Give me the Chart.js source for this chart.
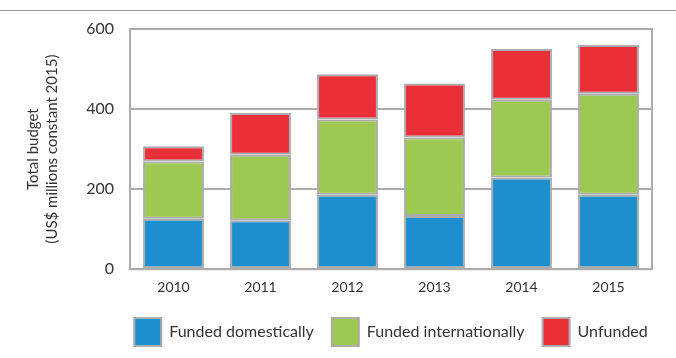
<!DOCTYPE html>
<html>
<head>
<meta charset="utf-8">
<script src="https://cdn.jsdelivr.net/npm/chart.js@4.4.0/dist/chart.umd.min.js"></script>
<style>
  html, body { margin: 0; padding: 0; background: #fff; }
  #wrap { position: relative; width: 676px; height: 358px; }
  #topline { position: absolute; left: 0; top: 10px; width: 676px; height: 1px; background: #9a9a9a; }
</style>
</head>
<body>
<div id="wrap">
  <div id="topline"></div>
  <canvas id="c" width="676" height="358"></canvas>
</div>
<script>
const categories = ['2010', '2011', '2012', '2013', '2014', '2015'];
const fundedDomestically = [126, 122, 186, 133, 229, 186];
const fundedInternationally = [143, 164, 188, 196, 194, 252];
const unfunded = [38, 104, 113, 135, 127, 122];
const seriesNames = ['Funded domestically', 'Funded internationally', 'Unfunded'];
const yTicks = [0, 200, 400, 600];
const yTitle = ['Total budget', '(US$ millions constant 2015)'];

const FONT = 'Lato';
const frameColor = '#acacac';

const framePlugin = {
  id: 'frame',
  afterLayout(chart) {
    const a = chart.chartArea;
    const lg = chart.legend;
    if (lg) {
      const w = lg.right - lg.left;
      const c = (a.left + a.right) / 2;
      lg.left = c - w / 2;
      lg.right = c + w / 2;
      lg.top -= 6;
      lg.bottom -= 6;
    }
  },
  afterDatasetsDraw(chart) {
    const a = chart.chartArea;
    const ctx = chart.ctx;
    ctx.save();
    ctx.strokeStyle = frameColor;
    ctx.lineWidth = 2;
    ctx.strokeRect(a.left, a.top, a.right - a.left, a.bottom - a.top);
    ctx.restore();
  }
};

const mk = (label, data, color) => ({
  label, data,
  backgroundColor: color,
  borderColor: frameColor,
  borderWidth: 2,
  borderSkipped: false,
  categoryPercentage: 1,
  barPercentage: 0.7
});

new Chart(document.getElementById('c'), {
  type: 'bar',
  data: {
    labels: categories,
    datasets: [
      mk(seriesNames[0], fundedDomestically, '#1d8fcf'),
      mk(seriesNames[1], fundedInternationally, '#9dc950'),
      mk(seriesNames[2], unfunded, '#ea2f39')
    ]
  },
  options: {
    responsive: false,
    animation: false,
    layout: { padding: { left: 23, right: 24, top: 29, bottom: -4 } },
    plugins: {
      tooltip: { enabled: false },
      legend: {
        position: 'bottom',
        labels: {
          boxWidth: 27,
          boxHeight: 28,
          padding: 18,
          color: '#333',
          font: { family: FONT, size: 16 }
        }
      }
    },
    scales: {
      x: {
        stacked: true,
        grid: { display: false, drawTicks: false },
        border: { display: false },
        ticks: { color: '#333', padding: 10, font: { family: FONT, size: 14 } }
      },
      y: {
        stacked: true,
        min: 0, max: 600,
        afterFit(scale) { scale.width = 107; },
        afterBuildTicks(scale) { scale.ticks = yTicks.map(v => ({ value: v })); },
        grid: { color: frameColor, lineWidth: 2, drawTicks: false },
        border: { display: false },
        ticks: { color: '#333', padding: 16, font: { family: FONT, size: 16 } },
        title: {
          display: true,
          text: yTitle,
          color: '#333',
          font: { family: FONT, size: 15, lineHeight: 1.3 },
          padding: { top: 0, bottom: 8 }
        }
      }
    }
  },
  plugins: [framePlugin]
});
</script>
</body>
</html>
